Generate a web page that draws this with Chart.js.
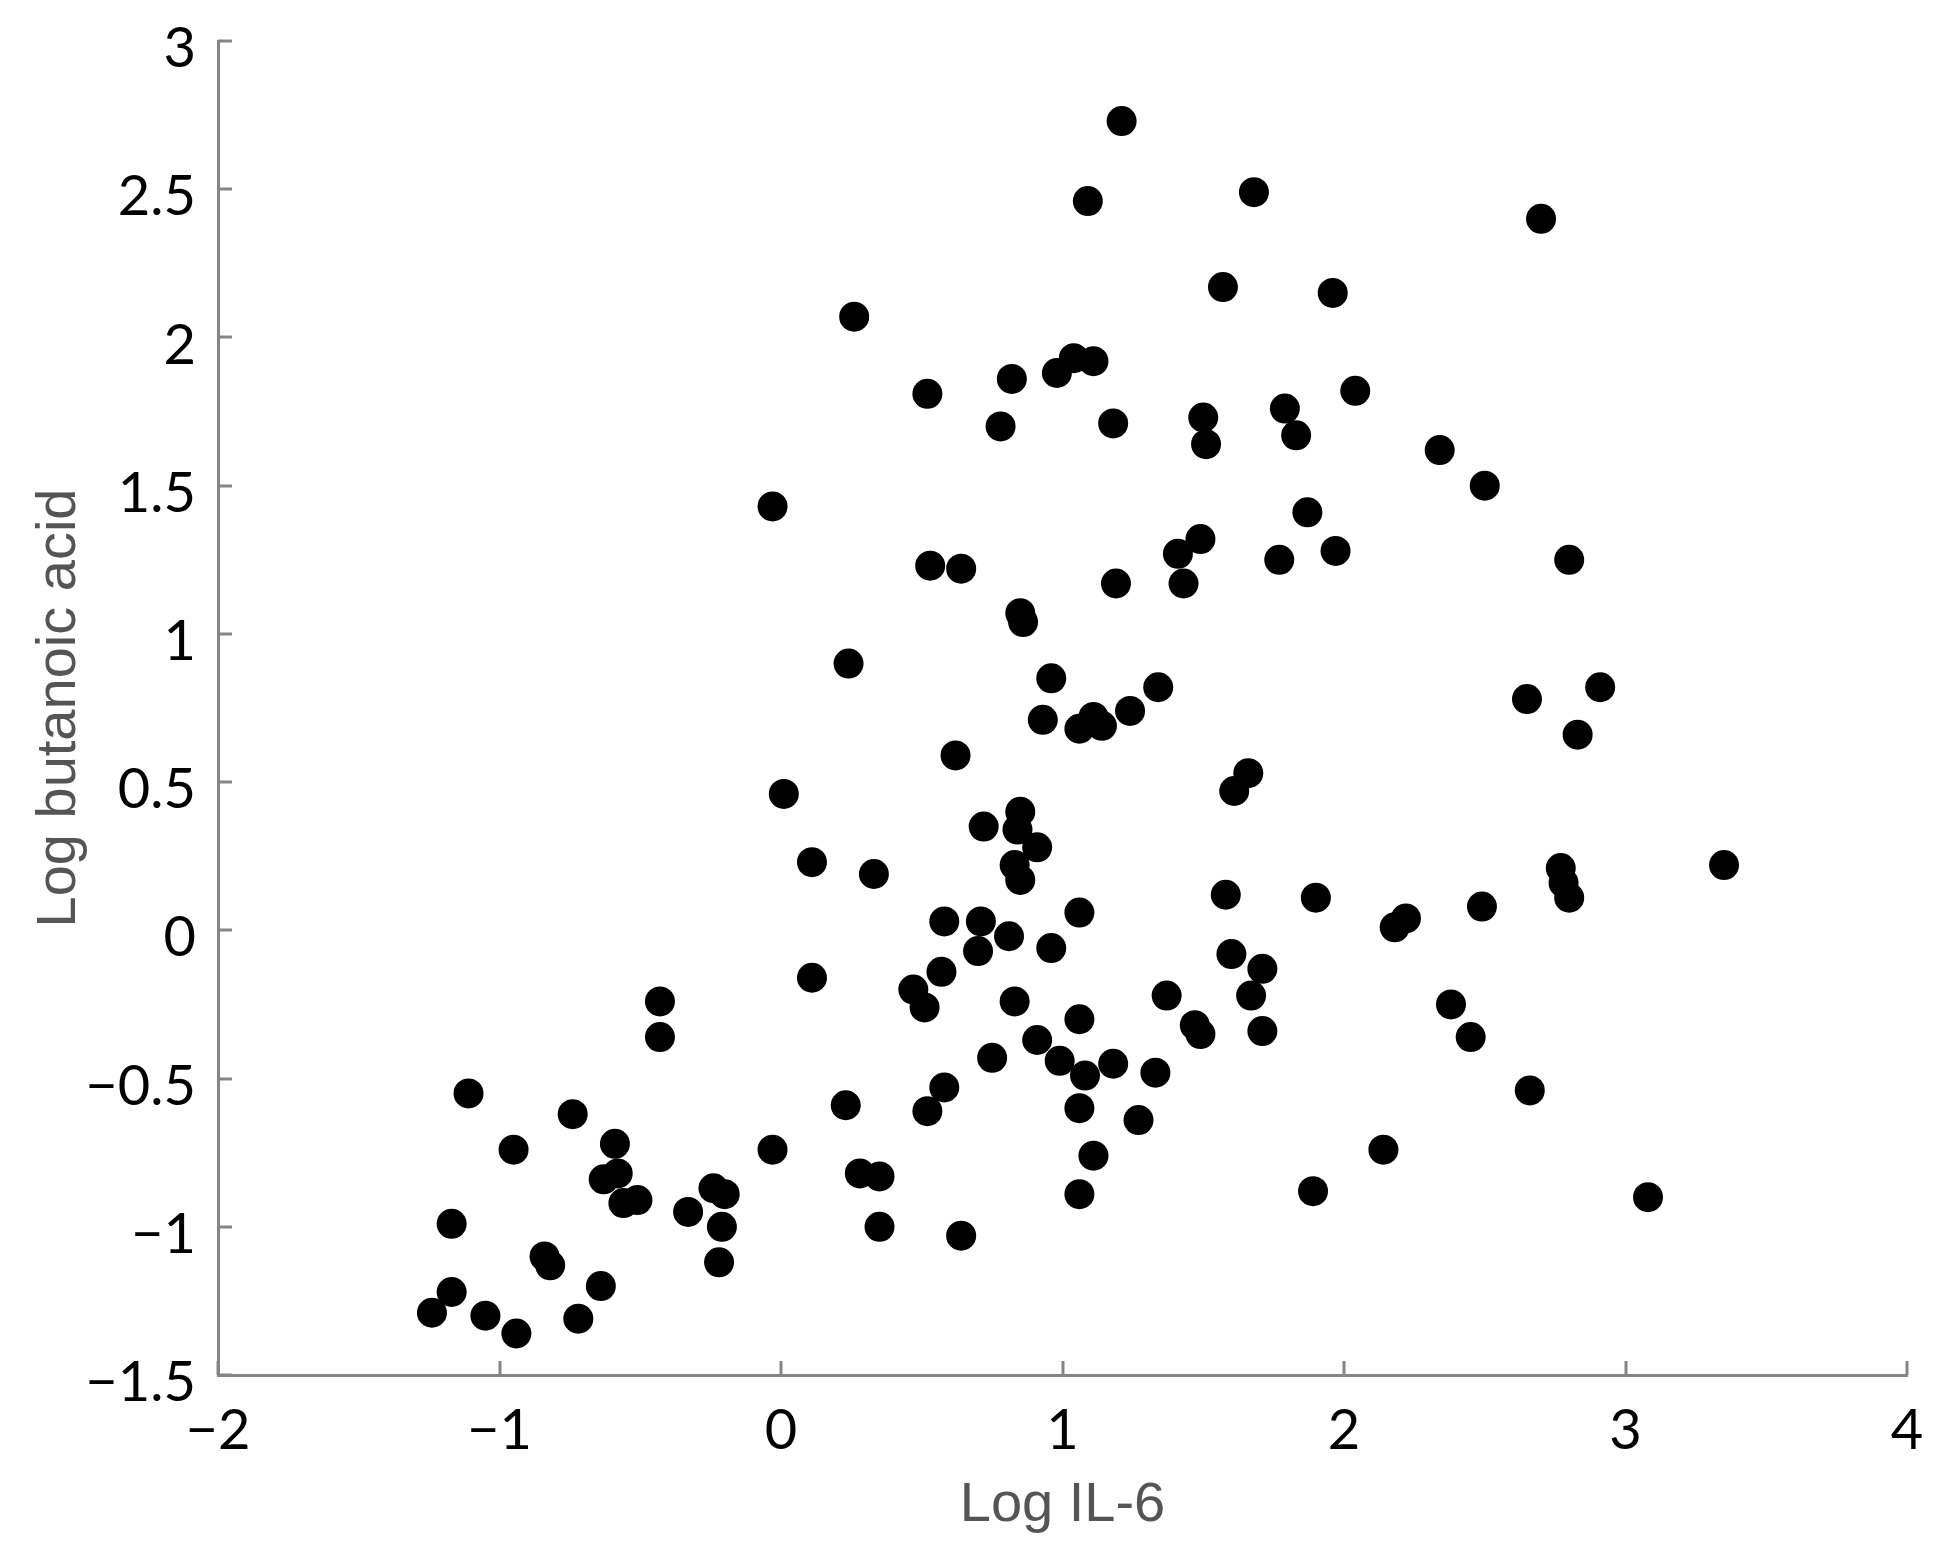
<!DOCTYPE html>
<html>
<head>
<meta charset="utf-8">
<script src="https://cdn.jsdelivr.net/npm/chart.js@4"></script>
<style>
  html, body { margin: 0; padding: 0; background: #fff; }
  #wrap { width: 1954px; height: 1558px; }
</style>
</head>
<body>
<div id="wrap"><canvas id="scatter" width="1954" height="1558"></canvas></div>
<script>
// Log IL-6 (x) and Log butanoic acid (y)
const logIL6 = [
  1.21, 1.09, 1.68, 2.70, 0.26, 1.57, 1.96, 1.04, 0.98, 1.11,
  0.82, 0.52, 2.04, 0.78, 1.18, 1.50, 1.79, 1.51, 1.83, 2.34,
  2.50, -0.03, 1.87, 1.49, 1.41, 1.97, 1.77, 2.80, 0.53, 0.64,
  1.19, 1.43, 0.85, 0.86, 0.24, 0.96, 1.34, 2.91, 2.65, 1.24,
  1.11, 0.93, 1.14, 1.06, 2.83, 0.62, 1.66, 1.61, 0.01, 0.85,
  0.72, 0.84, 0.91, 0.11, 0.33, 0.83, 0.85, 3.35, 2.77, 2.78,
  2.80, 1.58, 1.90, 2.49, 1.06, 2.22, 2.18, 0.58, 0.71, 0.81,
  0.70, 0.96, 1.60, 1.71, 0.57, 0.11, 0.47, 0.51, -0.43, 0.83,
  1.37, 1.67, 2.38, 1.06, 1.47, 1.49, -0.43, 0.91, 2.45, 1.71,
  0.75, 0.99, 1.18, 1.08, 1.33, 0.58, -1.11, 2.66, 0.23, 1.06,
  0.52, -0.74, 1.27, -0.95, -0.59, -0.03, 2.14, 1.11, -0.63, -0.58,
  0.28, 0.35, -0.56, -0.51, -0.33, -0.24, -0.20, 1.89, 1.06, 3.08,
  -1.17, -0.21, 0.35, 0.64, -0.84, -0.82, -0.22, -0.64, -1.17, -1.24,
  -1.05, -0.72, -0.94
];
const logButanoic = [
  2.73, 2.46, 2.49, 2.40, 2.07, 2.17, 2.15, 1.93, 1.88, 1.92,
  1.86, 1.81, 1.82, 1.70, 1.71, 1.73, 1.76, 1.64, 1.67, 1.62,
  1.50, 1.43, 1.41, 1.32, 1.27, 1.28, 1.25, 1.25, 1.23, 1.22,
  1.17, 1.17, 1.07, 1.04, 0.90, 0.85, 0.82, 0.82, 0.78, 0.74,
  0.72, 0.71, 0.69, 0.68, 0.66, 0.59, 0.53, 0.47, 0.46, 0.40,
  0.35, 0.34, 0.28, 0.23, 0.19, 0.22, 0.17, 0.22, 0.21, 0.16,
  0.11, 0.12, 0.11, 0.08, 0.06, 0.04, 0.01, 0.03, 0.03, -0.02,
  -0.07, -0.06, -0.08, -0.13, -0.14, -0.16, -0.20, -0.26, -0.24, -0.24,
  -0.22, -0.22, -0.25, -0.30, -0.32, -0.35, -0.36, -0.37, -0.36, -0.34,
  -0.43, -0.44, -0.45, -0.49, -0.48, -0.53, -0.55, -0.54, -0.59, -0.60,
  -0.61, -0.62, -0.64, -0.74, -0.72, -0.74, -0.74, -0.76, -0.84, -0.82,
  -0.82, -0.83, -0.92, -0.91, -0.95, -0.87, -0.89, -0.88, -0.89, -0.90,
  -0.99, -1.00, -1.00, -1.03, -1.10, -1.13, -1.12, -1.20, -1.22, -1.29,
  -1.30, -1.31, -1.36
];

const xTickLabels = ['\u22122', '\u22121', '0', '1', '2', '3', '4'];
const yTickLabels = ['\u22121.5', '\u22121', '\u22120.5', '0', '0.5', '1', '1.5', '2', '2.5', '3'];
const xMin = -2, xMax = 4, xStep = 1;
const yMin = -1.5, yMax = 3, yStep = 0.5;

const AXIS_GREY = '#858585';

// short tick marks pointing into the plot, like the original figure
const inwardTicks = {
  id: 'inwardTicks',
  afterDraw(chart) {
    const { ctx, chartArea, scales: { x, y } } = chart;
    ctx.save();
    ctx.strokeStyle = AXIS_GREY;
    ctx.lineWidth = 3;
    ctx.beginPath();
    x.ticks.forEach(t => {
      const px = Math.round(x.getPixelForValue(t.value));
      ctx.moveTo(px, chartArea.bottom);
      ctx.lineTo(px, chartArea.bottom - 14);
    });
    y.ticks.forEach(t => {
      const py = Math.round(y.getPixelForValue(t.value));
      ctx.moveTo(chartArea.left, py);
      ctx.lineTo(chartArea.left + 14, py);
    });
    ctx.stroke();
    ctx.restore();
  }
};

new Chart(document.getElementById('scatter'), {
  type: 'scatter',
  data: {
    datasets: [{
      data: logIL6.map((v, i) => ({ x: v, y: logButanoic[i] })),
      backgroundColor: '#000',
      borderWidth: 0,
      pointRadius: 15,
      pointHoverRadius: 15
    }]
  },
  options: {
    responsive: false,
    animation: false,
    devicePixelRatio: 1,
    layout: { padding: { left: 0, top: 41, right: 47, bottom: 0 } },
    plugins: {
      legend: { display: false },
      tooltip: { enabled: false }
    },
    scales: {
      x: {
        type: 'linear',
        min: xMin, max: xMax,
        afterFit: s => { s.height = 183; s.paddingLeft = 0; s.paddingRight = 0; },
        grid: { drawOnChartArea: false, drawTicks: false },
        border: { color: AXIS_GREY, width: 3 },
        ticks: {
          stepSize: xStep,
          padding: 22,
          color: '#000',
          font: { family: 'Lato', size: 56 },
          callback: v => xTickLabels[Math.round((v - xMin) / xStep)]
        },
        title: {
          display: true,
          text: 'Log IL-6',
          color: '#555',
          font: { family: 'Liberation Sans', size: 56 },
          padding: { top: 0, bottom: 19 }
        }
      },
      y: {
        type: 'linear',
        min: yMin, max: yMax,
        afterFit: s => { s.width = 218; s.paddingTop = 0; s.paddingBottom = 0; },
        grid: { drawOnChartArea: false, drawTicks: false },
        border: { color: AXIS_GREY, width: 3 },
        ticks: {
          stepSize: yStep,
          padding: 22,
          labelOffset: 8,
          color: '#000',
          font: { family: 'Lato', size: 56 },
          callback: v => yTickLabels[Math.round((v - yMin) / yStep)]
        },
        title: {
          display: true,
          text: 'Log butanoic acid',
          color: '#555',
          font: { family: 'Liberation Sans', size: 56 },
          padding: { top: 26, bottom: 0 }
        }
      }
    }
  },
  plugins: [inwardTicks]
});
</script>
</body>
</html>
